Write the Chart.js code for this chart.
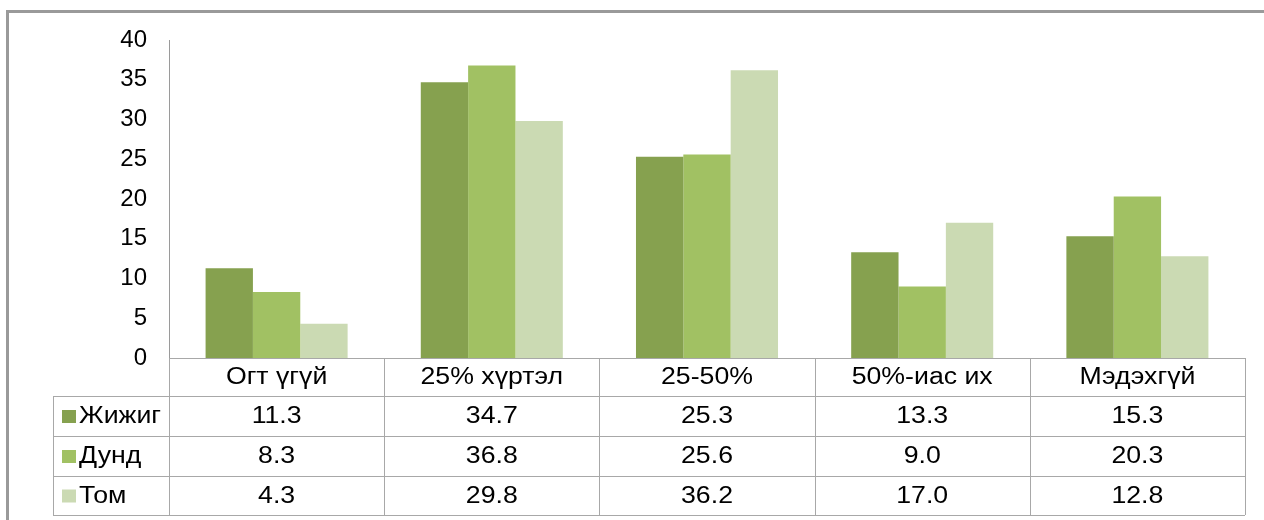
<!DOCTYPE html>
<html>
<head>
<meta charset="utf-8">
<script src="https://cdn.jsdelivr.net/npm/chart.js@4/dist/chart.umd.min.js"></script>
<style>
  body { margin: 0; background: #fff; }
  canvas { display: block; }
</style>
</head>
<body>
<canvas id="myChart" width="1264" height="520"></canvas>
<script>
// data
const categories = ['Огт үгүй', '25% хүртэл', '25-50%', '50%-иас их', 'Мэдэхгүй'];
const seriesNames = ['Жижиг', 'Дунд', 'Том'];
const zhizhig = [11.3, 34.7, 25.3, 13.3, 15.3];
const dund = [8.3, 36.8, 25.6, 9.0, 20.3];
const tom = [4.3, 29.8, 36.2, 17.0, 12.8];
const yTicks = [0, 5, 10, 15, 20, 25, 30, 35, 40];

const colors = ['#86a14f', '#a1c163', '#cbdab3'];
const family = '"Liberation Sans", Arial, sans-serif';
const font = '23px ' + family;
const lineColor = '#a8a8a8';
const stretch = 1.16;

// text a bit wider, like the original picture
function wideText(c, txt, x, y) {
    c.save();
    c.translate(x, y);
    c.scale(stretch, 1);
    c.fillText(txt, 0, 0);
    c.restore();
}

// table under the plot (data table like Excel)
const dataTable = {
    id: 'dataTable',
    beforeDraw(chart) {
        const c = chart.ctx;
        c.save();
        c.strokeStyle = '#9a9a9a';
        c.lineWidth = 3;
        c.beginPath();
        c.moveTo(7.5, 600);
        c.lineTo(7.5, 11.5);
        c.lineTo(1300, 11.5);
        c.stroke();
        c.restore();
    },
    afterDraw(chart) {
        const c = chart.ctx;
        const x = chart.scales.x;
        const area = chart.chartArea;
        const w = (area.right - area.left) / categories.length;
        const top = area.bottom;
        const rows = [top, top + 38, top + 78, top + 118, top + 157];
        const legendLeft = 53;

        c.save();
        c.strokeStyle = lineColor;
        c.lineWidth = 1;
        c.beginPath();
        // axis / header line
        c.moveTo(area.left, Math.round(top) + 0.5);
        c.lineTo(area.right, Math.round(top) + 0.5);
        for (let r = 1; r < rows.length; r++) {
            c.moveTo(legendLeft, Math.round(rows[r]) + 0.5);
            c.lineTo(area.right, Math.round(rows[r]) + 0.5);
        }
        for (let i = 0; i <= categories.length; i++) {
            const px = Math.round(area.left + i * w) + 0.5;
            c.moveTo(px, top);
            c.lineTo(px, rows[4]);
        }
        c.moveTo(legendLeft + 0.5, rows[1]);
        c.lineTo(legendLeft + 0.5, rows[4]);
        c.stroke();

        c.font = font;
        c.fillStyle = '#000';
        c.textBaseline = 'middle';
        c.textAlign = 'center';
        categories.forEach((cat, i) => {
            wideText(c, cat, x.getPixelForValue(i), (rows[0] + rows[1]) / 2 + 1);
        });
        chart.data.datasets.forEach((ds, r) => {
            const cy = (rows[r + 1] + rows[r + 2]) / 2 + 1;
            c.fillStyle = ds.backgroundColor;
            c.fillRect(62, cy - 7, 14, 13);
            c.fillStyle = '#000';
            c.textAlign = 'left';
            wideText(c, ds.label, 79, cy);
            c.textAlign = 'center';
            ds.data.forEach((v, i) => {
                wideText(c, v.toFixed(1), x.getPixelForValue(i), cy);
            });
        });
        c.restore();
    }
};

const ctx = document.getElementById('myChart');
new Chart(ctx, {
    type: 'bar',
    data: {
        labels: categories,
        datasets: [
            { label: seriesNames[0], data: zhizhig, backgroundColor: colors[0] },
            { label: seriesNames[1], data: dund, backgroundColor: colors[1] },
            { label: seriesNames[2], data: tom, backgroundColor: colors[2] }
        ]
    },
    options: {
        responsive: false,
        animation: false,
        layout: { padding: { top: 40, right: 19, bottom: 162, left: 0 } },
        datasets: {
            bar: { categoryPercentage: 0.66, barPercentage: 1.0, borderWidth: 0 }
        },
        plugins: {
            legend: { display: false },
            tooltip: { enabled: false }
        },
        scales: {
            x: { display: false },
            y: {
                min: 0,
                max: 40,
                afterFit: s => { s.width = 169; },
                afterBuildTicks: s => { s.ticks = yTicks.map(v => ({ value: v })); },
                grid: { display: false, drawTicks: false },
                border: { display: true, color: '#9a9a9a', width: 1 },
                ticks: {
                    color: '#000',
                    padding: 22,
                    font: { family: family, size: 24 }
                }
            }
        }
    },
    plugins: [dataTable]
});
</script>
</body>
</html>
